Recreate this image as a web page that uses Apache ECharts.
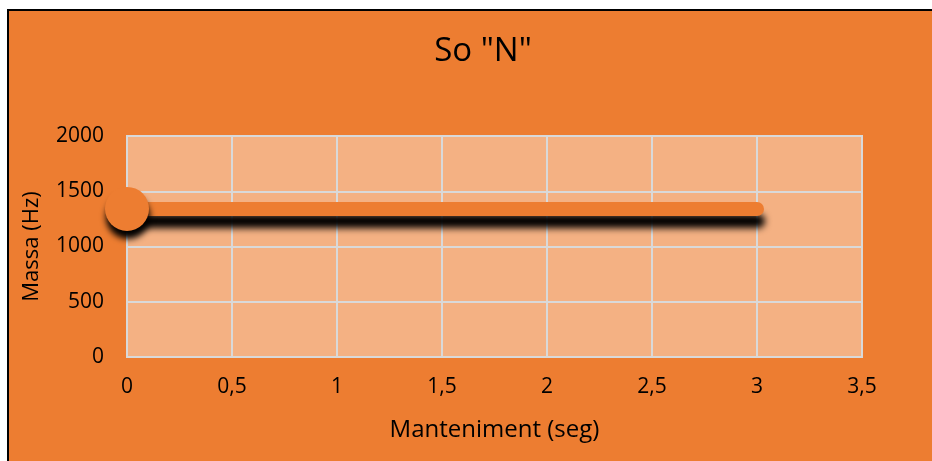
<!DOCTYPE html>
<html>
<head>
<meta charset="utf-8">
<script src="https://cdn.jsdelivr.net/npm/echarts@6/dist/echarts.min.js"></script>
<style>
  html, body { margin: 0; padding: 0; background: #ffffff; }
  #bg { position: absolute; left: 7px; top: 9px; width: 925px; height: 452px;
        background: #ED7D31; border-left: 2px solid #000; border-top: 2px solid #000; box-sizing: border-box; }
  #chart { position: absolute; left: 0; top: 0; width: 932px; height: 461px; }
</style>
</head>
<body>
<div id="bg"></div>
<div id="chart"></div>
<script>
const titleText = 'So "N"';
const xName = 'Manteniment (seg)';
const yName = 'Massa (Hz)';
const xValues = [0, 1.5, 3];
const yValues = [1340, 1340, 1340];
const xMin = 0, xMax = 3.5, xStep = 0.5;
const yMin = 0, yMax = 2000, yStep = 500;

const font = '"Open Sans", "Liberation Sans", sans-serif';
const data = xValues.map((x, i) => ({
  value: [x, yValues[i]],
  symbolSize: i === 0 ? 44 : 0
}));

const chart = echarts.init(document.getElementById('chart'), null, { renderer: 'canvas' });
chart.setOption({
  backgroundColor: 'transparent',
  animation: false,
  title: {
    text: titleText,
    left: 478, top: 30, textAlign: 'center',
    textStyle: { fontFamily: font, fontSize: 33, fontWeight: 'normal', color: '#000' }
  },
  grid: {
    left: 127, top: 136, width: 735, height: 221,
    show: true, backgroundColor: '#F4B183', borderColor: '#D9D9D9', borderWidth: 2
  },
  xAxis: {
    type: 'value', min: xMin, max: xMax, interval: xStep,
    name: xName, nameLocation: 'middle', nameGap: 61,
    nameTextStyle: { fontFamily: font, fontSize: 24, color: '#000' },
    axisLine: { show: true, lineStyle: { color: '#D9D9D9', width: 2 } },
    axisTick: { show: false },
    axisLabel: { fontFamily: font, fontSize: 21, color: '#000', margin: 20,
      formatter: v => String(v).replace('.', ',') },
    splitLine: { show: true, lineStyle: { color: '#D9D9D9', width: 2 } }
  },
  yAxis: {
    type: 'value', min: yMin, max: yMax, interval: yStep,
    name: yName, nameLocation: 'middle', nameGap: 84,
    nameTextStyle: { fontFamily: font, fontSize: 22, color: '#000' },
    axisLine: { show: false },
    axisTick: { show: false },
    axisLabel: { fontFamily: font, fontSize: 21, color: '#000', margin: 23,
      formatter: v => String(v) },
    splitLine: { show: true, lineStyle: { color: '#D9D9D9', width: 2 } }
  },
  series: [{
    type: 'line',
    data: data,
    symbol: 'circle',
    showSymbol: true,
    clip: false,
    lineStyle: { color: '#ED7D31', width: 14, cap: 'round', join: 'round',
      shadowColor: 'rgba(0,0,0,1)', shadowBlur: 7, shadowOffsetY: 12, shadowOffsetX: 1 },
    itemStyle: { color: '#ED7D31', borderWidth: 0,
      shadowColor: 'rgba(0,0,0,1)', shadowBlur: 6, shadowOffsetY: 8, shadowOffsetX: 1 }
  }]
});
</script>
</body>
</html>
